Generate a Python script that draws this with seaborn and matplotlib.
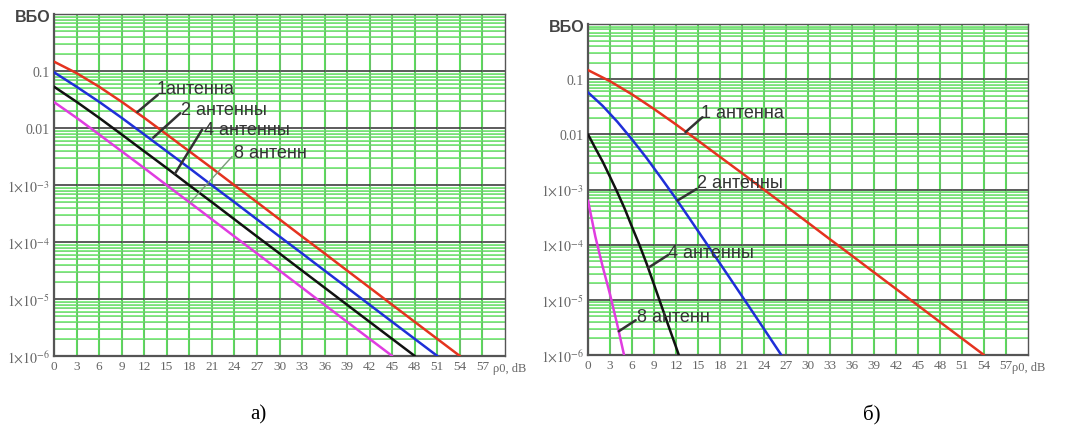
import numpy as np
import pandas as pd
import matplotlib
matplotlib.use("Agg")
import matplotlib.pyplot as plt
import seaborn as sns

# ---------------- data ----------------
# SNR values, dB
snr_a_1 = [0, 3, 6, 9, 12, 15, 18, 21, 24, 27, 30, 33, 36, 39, 42, 45, 48, 51, 54]
snr_a_2 = [0, 3, 6, 9, 12, 15, 18, 21, 24, 27, 30, 33, 36, 39, 42, 45, 48, 51]
snr_a_4 = [0, 3, 6, 9, 12, 15, 18, 21, 24, 27, 30, 33, 36, 39, 42, 45, 48]
snr_a_8 = [0, 3, 6, 9, 12, 15, 18, 21, 24, 27, 30, 33, 36, 39, 42, 45]

# bit error probability (ВБО), panel а)
ber_a_1 = [0.146, 0.0918, 0.053, 0.0288, 0.0151, 0.0077, 0.0039, 0.00198, 9.9e-4,
           5.0e-4, 2.5e-4, 1.25e-4, 6.3e-5, 3.15e-5, 1.58e-5, 7.9e-6, 3.96e-6,
           1.99e-6, 1.0e-6]
ber_a_2 = [0.095, 0.053, 0.0288, 0.0151, 0.0077, 0.0039, 0.00198, 9.9e-4, 5.0e-4,
           2.5e-4, 1.25e-4, 6.3e-5, 3.15e-5, 1.58e-5, 7.9e-6, 3.96e-6, 1.99e-6,
           1.0e-6]
ber_a_4 = [0.053, 0.0288, 0.0151, 0.0077, 0.0039, 0.00198, 9.9e-4, 5.0e-4, 2.5e-4,
           1.25e-4, 6.3e-5, 3.15e-5, 1.58e-5, 7.9e-6, 3.96e-6, 1.99e-6, 1.0e-6]
ber_a_8 = [0.0285, 0.0151, 0.0077, 0.0039, 0.00198, 9.9e-4, 5.0e-4, 2.5e-4, 1.25e-4,
           6.3e-5, 3.15e-5, 1.58e-5, 7.9e-6, 3.96e-6, 1.99e-6, 1.0e-6]

# panel б)
snr_b_1 = [0, 3, 6, 9, 12, 15, 18, 21, 24, 27, 30, 33, 36, 39, 42, 45, 48, 51, 54]
ber_b_1 = [0.146, 0.0918, 0.053, 0.0288, 0.0151, 0.0077, 0.0039, 0.00198, 9.9e-4,
           5.0e-4, 2.5e-4, 1.25e-4, 6.3e-5, 3.15e-5, 1.58e-5, 7.9e-6, 3.96e-6,
           1.99e-6, 1.0e-6]
snr_b_2 = [0, 2, 4, 6, 8, 10, 12, 14, 16, 18, 20, 22, 24, 26, 27]
ber_b_2 = [0.0577, 0.0328, 0.0169, 0.0081, 0.0037, 0.0016, 6.8e-4, 2.78e-4, 1.13e-4,
           4.55e-5, 1.84e-5, 7.4e-6, 2.96e-6, 1.18e-6, 7.4e-7]
snr_b_4 = [0, 1, 2, 3, 4, 5, 6, 7, 8, 9, 10, 11, 12, 13]
ber_b_4 = [1.0e-2, 5.6e-3, 3.2e-3, 1.7e-3, 8.9e-4, 4.5e-4, 2.1e-4, 1.0e-4, 4.5e-5,
           1.9e-5, 7.9e-6, 3.3e-6, 1.4e-6, 5.8e-7]
snr_b_8 = [0, 1, 2, 3, 4, 5]
ber_b_8 = [6.3e-4, 1.4e-4, 4.0e-5, 1.26e-5, 3.5e-6, 8.9e-7]

series_names_a = ["1антенна", "2 антенны", "4 антенны", "8 антенн"]
series_names_b = ["1 антенна", "2 антенны", "4 антенны", "8 антенн"]
line_colors = ["#e5331f", "#1f2fd8", "#111111", "#e03ce0"]

x_ticks = list(range(0, 58, 3))
y_ticks = [1e-6, 1e-5, 1e-4, 1e-3, 1e-2, 1e-1]
y_tick_labels = [r"$1{\times}10^{-6}$", r"$1{\times}10^{-5}$", r"$1{\times}10^{-4}$",
                 r"$1{\times}10^{-3}$", "0.01", "0.1"]

# ---------------- styling ----------------
sns.set_theme(style="white")
plt.rcParams["font.family"] = ["Liberation Sans", "DejaVu Sans"]
plt.rcParams["mathtext.fontset"] = "stix"

W, H = 1067, 439
fig = plt.figure(figsize=(W / 100, H / 100), dpi=100)
fig.patch.set_facecolor("white")


def px_axes(left, top, right, bottom):
    return fig.add_axes([left / W, 1 - bottom / H, (right - left) / W, (bottom - top) / H])


ax_a = px_axes(54, 15, 505, 357)
ax_b = px_axes(588, 25, 1028, 356)

GREEN = "#6cf06c"
GREEN_V = "#58e258"
GRID_GRAY = "#7f957f"
DARK = "#404040"
TICK_COLOR = "#666666"


def frame(ax):
    ax.set_yscale("log")
    ax.set_xlim(0, 60)
    ax.set_ylim(1e-6, 1)
    ax.set_facecolor("white")
    ax.set_xticks(x_ticks)
    ax.set_xticklabels([str(t) for t in x_ticks], fontfamily="Liberation Serif",
                       fontsize=9.5, color=TICK_COLOR)
    ax.set_yticks(y_ticks)
    ax.set_yticklabels(y_tick_labels, fontfamily="Liberation Serif",
                       fontsize=10, color=TICK_COLOR)
    minor = [m * 10.0 ** k for k in range(-6, 0) for m in range(2, 10)]
    ax.set_yticks(minor, minor=True)
    ax.yaxis.set_minor_formatter(matplotlib.ticker.NullFormatter())
    ax.tick_params(which="both", length=0, pad=3)
    ax.set_axisbelow(True)
    # green grid with a darker core line, as on a plotting sheet
    ax.grid(which="minor", axis="y", color=GREEN, lw=1.2)
    ax.grid(which="major", axis="x", color=GREEN_V, lw=1.5)
    ax.grid(which="major", axis="y", color=DARK, lw=1.2)
    for v in minor:
        ax.axhline(v, color=GRID_GRAY, lw=0.5, alpha=0.45, zorder=0.6)
    for t in x_ticks[1:]:
        ax.axvline(t, color=GRID_GRAY, lw=0.6, alpha=0.5, zorder=0.6)
    for side, sp in ax.spines.items():
        sp.set_visible(True)
        sp.set_color("#555555")
        sp.set_linewidth(1.6 if side in ("left", "bottom") else 1.0)
    ax.set_xlabel("")
    ax.set_ylabel("")


def draw_panel(ax, xs, ys, names):
    frames = []
    for x, y, n in zip(xs, ys, names):
        frames.append(pd.DataFrame({"snr": x, "ber": y, "curve": n}))
    df = pd.concat(frames, ignore_index=True)
    sns.lineplot(data=df, x="snr", y="ber", hue="curve", hue_order=names,
                 palette=dict(zip(names, line_colors)), lw=1.8, ax=ax,
                 legend=False, sort=False, estimator=None, zorder=3)
    frame(ax)


draw_panel(ax_a, [snr_a_1, snr_a_2, snr_a_4, snr_a_8],
           [ber_a_1, ber_a_2, ber_a_4, ber_a_8], series_names_a)
draw_panel(ax_b, [snr_b_1, snr_b_2, snr_b_4, snr_b_8],
           [ber_b_1, ber_b_2, ber_b_4, ber_b_8], series_names_b)

# curve labels with leader lines: (text, text anchor (dB, log10), line start, curve point)
labels_a = [
    ("1антенна", (13.7, -1.30), (13.8, -1.42), (11.1, -1.72)),
    ("2 антенны", (16.9, -1.68), (16.8, -1.74), (13.2, -2.17)),
    ("4 антенны", (20.0, -2.03), (19.7, -2.03), (16.1, -2.80)),
    ("8 антенн", (24.0, -2.43), (23.7, -2.50), (18.1, -3.31)),
]
labels_b = [
    ("1 антенна", (15.4, -1.61), (15.6, -1.69), (13.3, -1.96)),
    ("2 антенны", (14.9, -2.88), (14.8, -2.99), (12.2, -3.20)),
    ("4 антенны", (10.9, -4.14), (10.9, -4.19), (8.2, -4.42)),
    ("8 антенн", (6.7, -5.31), (6.5, -5.37), (4.2, -5.57)),
]


def put_labels(ax, labels, thin_last=False):
    for i, (txt, tpos, lstart, lend) in enumerate(labels):
        ax.text(tpos[0], 10 ** tpos[1], txt, fontsize=13, color="#333333",
                ha="left", va="center", zorder=5)
        thin = thin_last and i == len(labels) - 1
        ax.annotate("", xy=(lend[0], 10 ** lend[1]),
                    xytext=(lstart[0], 10 ** lstart[1]),
                    arrowprops=dict(arrowstyle="-", color="#7a9a7a" if thin else "#333333",
                                    lw=1.0 if thin else 1.8, shrinkA=0, shrinkB=0),
                    zorder=5)


put_labels(ax_a, labels_a, thin_last=True)
put_labels(ax_b, labels_b)

# axis captions
fig.text(50 / W, 1 - 18 / H, "ВБО", ha="right", va="center", fontsize=11.5,
         fontweight="bold", color="#444444")
fig.text(584 / W, 1 - 27 / H, "ВБО", ha="right", va="center", fontsize=11.5,
         fontweight="bold", color="#444444")
fig.text(493 / W, 1 - 369 / H, "ρ0, dB", ha="left", va="center", fontsize=9,
         family="Liberation Serif", color=TICK_COLOR)
fig.text(1012 / W, 1 - 368 / H, "ρ0, dB", ha="left", va="center", fontsize=9,
         family="Liberation Serif", color=TICK_COLOR)

# panel captions
fig.text(258 / W, 1 - 415 / H, "а)", ha="center", va="center", fontsize=15,
         family="Liberation Serif", color="black")
fig.text(872 / W, 1 - 415 / H, "б)", ha="center", va="center", fontsize=15,
         family="Liberation Serif", color="black")

fig.savefig("out.png", dpi=100, facecolor="white")
